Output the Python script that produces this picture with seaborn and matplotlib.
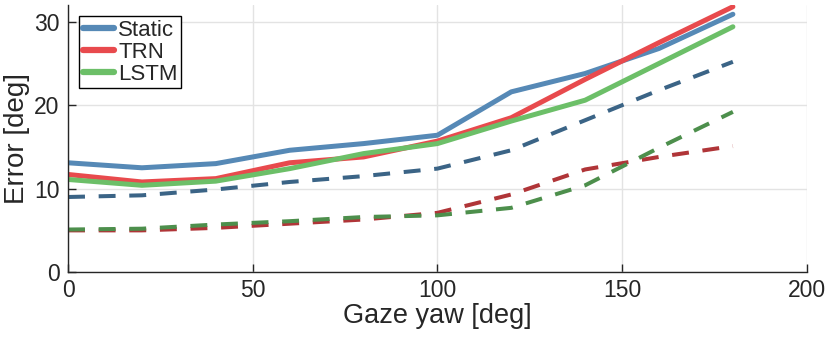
import numpy as np
import pandas as pd
import seaborn as sns
import matplotlib.pyplot as plt

# 数据
yaw = [0, 20, 40, 60, 80, 100, 120, 140, 160, 180]
static_err = [13.1, 12.5, 13.0, 14.6, 15.4, 16.4, 21.6, 23.8, 26.8, 30.9]
trn_err = [11.7, 10.8, 11.2, 13.1, 13.8, 15.7, 18.5, 23.1, 27.5, 31.8]
lstm_err = [11.1, 10.4, 10.9, 12.4, 14.2, 15.4, 18.1, 20.6, 25.0, 29.4]
static_dash = [9.0, 9.2, 9.9, 10.8, 11.5, 12.4, 14.6, 18.2, 21.8, 25.2]
trn_dash = [5.0, 5.0, 5.3, 5.8, 6.3, 7.1, 9.3, 12.3, 13.8, 15.1]
lstm_dash = [5.1, 5.2, 5.7, 6.1, 6.6, 6.8, 7.7, 10.4, 14.9, 19.2]
names = ['Static', 'TRN', 'LSTM']

solid_colors = ['#5689b6', '#e84a4d', '#6cbf68']
dash_colors = ['#3b6486', '#b03538', '#4d8f4c']

sns.set_theme(style='white')
plt.rcParams['font.family'] = ['Liberation Sans', 'DejaVu Sans']

df = pd.DataFrame({'yaw': yaw * 3,
                   'err': static_err + trn_err + lstm_err,
                   'model': [n for n in names for _ in yaw]})

fig = plt.figure(figsize=(8.3, 3.38), dpi=100)
ax = fig.add_axes([0.082, 0.195, 0.890, 0.790])

for vals, c in zip([static_dash, trn_dash, lstm_dash], dash_colors):
    sns.lineplot(x=yaw, y=vals, color=c, lw=2.9, linestyle=(0, (4.2, 3.4)), ax=ax, legend=False)

sns.lineplot(data=df, x='yaw', y='err', hue='model', palette=dict(zip(names, solid_colors)),
             lw=3.6, ax=ax)

ax.set_xlim(0, 200)
ax.set_ylim(0, 32)
ax.set_xticks([0, 50, 100, 150, 200])
ax.set_yticks([0, 10, 20, 30])
ax.grid(True, color='#e3e3e3', lw=1)
for s in ['top', 'right']:
    ax.spines[s].set_visible(False)
for s in ['left', 'bottom']:
    ax.spines[s].set_color('#262626')
    ax.spines[s].set_linewidth(1)
ax.tick_params(direction='in', length=6, width=1, color='#262626', labelsize=16.5,
               labelcolor='#262626', bottom=True, left=True)
ax.tick_params(axis='x', pad=5)
ax.tick_params(axis='y', pad=6)
ax.set_xlabel('Gaze yaw [deg]', fontsize=19.5, color='#262626', labelpad=1)
ax.set_ylabel('Error [deg]', fontsize=20, color='#262626', labelpad=3)

leg = ax.legend(loc='upper left', frameon=True, fancybox=False, framealpha=1,
                edgecolor='black', handlelength=1.4, handletextpad=0.2, labelspacing=0.05,
                borderpad=0.15, borderaxespad=0.5, prop={'size': 16})
leg.get_frame().set_linewidth(1)
for h in leg.get_lines():
    h.set_linewidth(4.5)

plt.savefig('out.png', dpi=100)
